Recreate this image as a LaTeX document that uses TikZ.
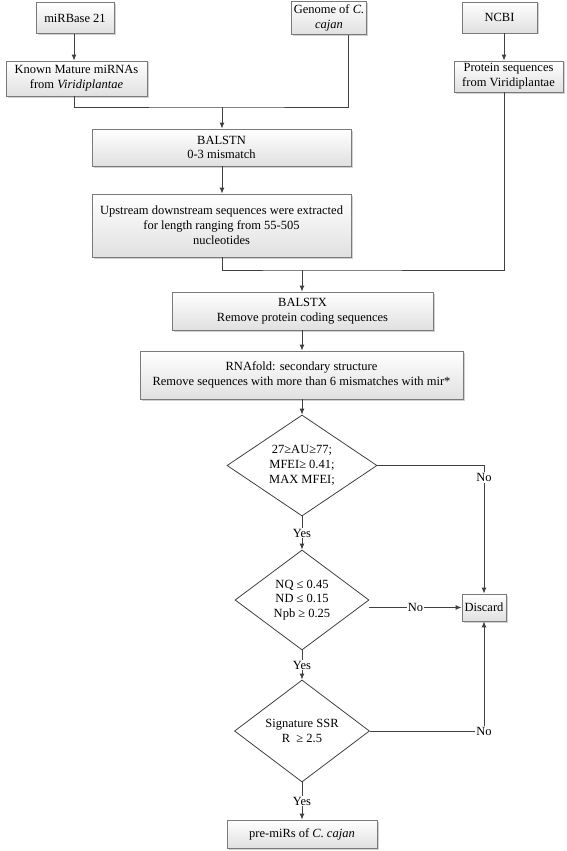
\documentclass[tikz,border=0pt]{standalone}
\usepackage{fontspec}
\setmainfont{Liberation Serif}
\usetikzlibrary{shapes.geometric,arrows.meta,shadows}
\definecolor{ln}{HTML}{404040}
\definecolor{bd}{HTML}{7A7A7A}
\tikzset{
  txt/.style={font=\fontsize{12.5}{14.8}\selectfont},
  box/.style={txt, draw=bd, line width=0.8pt, top color=white, bottom color=black!12,
    align=center, inner sep=2pt,
    drop shadow={shadow xshift=1.5pt, shadow yshift=-1.5pt, fill=black!40, opacity=0.45}},
  dia/.style={txt, diamond, draw=ln, line width=0.8pt, fill=white, align=center,
    inner sep=0pt, aspect=1.5},
  conn/.style={draw=ln, line width=1pt},
  arr/.style={conn, -{Latex[length=6pt,width=5pt]}},
  lbl/.style={txt, fill=white, inner sep=1pt}
}
\begin{document}
\begin{tikzpicture}[x=1pt,y=-1pt]
\useasboundingbox (0,0) rectangle (567,851);
% boxes
\node[box, minimum width=78pt, minimum height=31pt] (mir) at (75,18) {miRBase 21};
\node[box, minimum width=70pt, minimum height=33pt] (gen) at (329,18) {Genome of \textit{C.}\\\textit{cajan}};
\node[box, minimum width=75pt, minimum height=31pt] (ncbi) at (499.5,17.5) {NCBI};
\node[box, minimum width=141pt, minimum height=35pt] (known) at (76.5,78.5) {Known Mature miRNAs\\from \textit{Viridiplantae}};
\node[box, minimum width=109pt, minimum height=31pt, inner sep=1pt] (prot) at (508.5,76.5) {Protein sequences\\from Viridiplantae};
\node[box, minimum width=259pt, minimum height=37pt] (blastn) at (221.5,147.5) {BALSTN\\0-3 mismatch};
\node[box, minimum width=259pt, minimum height=63pt] (up) at (221.5,225.5) {Upstream downstream sequences were extracted\\for length ranging from 55-505\\nucleotides};
\node[box, minimum width=261pt, minimum height=38pt] (blastx) at (302.5,311) {BALSTX\\Remove protein coding sequences};
\node[box, minimum width=323pt, minimum height=48pt] (rna) at (301.5,375) {RNAfold: secondary structure\\Remove sequences with more than 6 mismatches with mir*};
% diamonds
\node[dia, minimum width=150pt, minimum height=101pt] (d1) at (302,465.5) {27≥AU≥77;\\MFEI≥ 0.41;\\MAX MFEI;};
\node[dia, minimum width=134pt, minimum height=100pt] (d2) at (302,600) {NQ ≤ 0.45\\ND ≤ 0.15\\Npb ≥ 0.25};
\node[dia, minimum width=135pt, minimum height=102pt] (d3) at (302,731) {Signature SSR\\R \ ≥ 2.5};
\node[box, minimum width=44pt, minimum height=27pt, inner sep=1pt] (disc) at (484,607.5) {Discard};
\node[box, minimum width=150pt, minimum height=28pt] (pre) at (302,834) {pre-miRs of \textit{C. cajan}};
% junctions
\coordinate (jA) at (222,107);
\coordinate (jB) at (302,270);
% connectors
\draw[arr] ([xshift=-1pt]mir.south) -- ([xshift=-1pt]mir.south |- known.north);
\draw[conn] ([xshift=-2.5pt]known.south) |- (jA) -| ([xshift=19pt]gen.south);
\draw[arr] (jA) -- (jA |- blastn.north);
\draw[arr] ([xshift=4.5pt]ncbi.south) -- ([xshift=4.5pt]ncbi.south |- prot.north);
\draw[arr] (blastn.south -| jA) -- (up.north -| jA);
\draw[conn] (up.south -| jA) |- (jB) -| ([xshift=4.5pt]ncbi.south |- prot.south);
\draw[arr] (jB) -- (blastx.north -| jB);
\draw[arr] (blastx.south -| jB) -- (rna.north -| jB);
\draw[arr] (rna.south -| d1.north) -- (d1.north);
\draw[arr] (d1.south) -- node[lbl]{Yes} (d2.north);
\draw[arr] (d2.south) -- node[lbl]{Yes} (d3.north);
\draw[arr] (d3.south) -- node[lbl]{Yes} (pre.north);
\draw[arr] (d1.east) -| node[lbl, pos=0.547]{No} (disc.north);
\draw[arr] (d2.east |- disc.west) -- node[lbl]{No} (disc.west);
\draw[arr] (d3.east) -| node[lbl, pos=0.5]{No} (disc.south);
\end{tikzpicture}
\end{document}
